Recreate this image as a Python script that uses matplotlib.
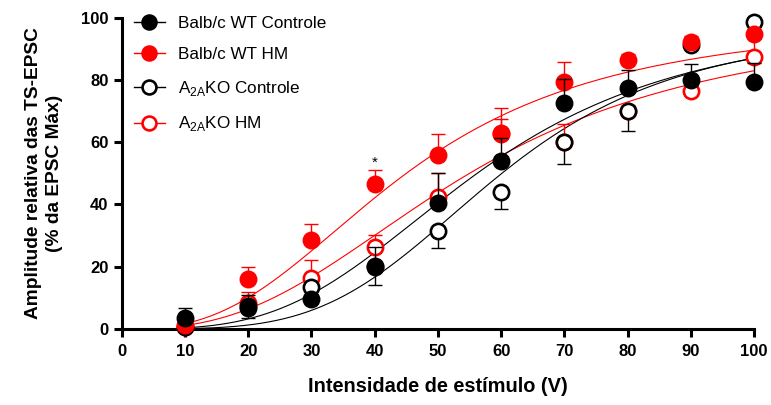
import numpy as np
import matplotlib.pyplot as plt
from matplotlib.lines import Line2D

plt.rcParams['font.family'] = ['Liberation Sans', 'DejaVu Sans']

# stimulus intensities (V)
volts = [10, 20, 30, 40, 50, 60, 70, 80, 90, 100]

# mean relative amplitude (% of max EPSC) and SEM per group
wt_ctrl = [3.5, 6.7, 9.5, 20.3, 40.5, 54.0, 72.7, 77.5, 80.0, 79.4]
wt_ctrl_sem = [3.3, 4.3, 1.5, 6.0, 9.5, 7.4, 7.5, 5.8, 5.0, 6.0]

wt_hm = [1.2, 16.0, 28.6, 46.5, 56.0, 63.0, 79.5, 86.5, 92.2, 94.8]
wt_hm_sem = [1.0, 4.0, 5.2, 4.5, 6.8, 8.0, 6.3, 2.0, 2.0, 1.0]

ko_ctrl = [0.5, 7.2, 13.3, 20.0, 31.5, 44.0, 60.0, 70.2, 91.4, 98.6]
ko_ctrl_sem = [1.0, 3.6, 2.5, 6.0, 5.5, 5.5, 7.0, 6.5, 1.0, 1.0]

ko_hm = [0.6, 8.3, 16.4, 26.4, 42.4, 62.5, 60.0, 70.0, 76.6, 87.4]
ko_hm_sem = [1.0, 3.7, 5.8, 3.8, 7.6, 5.0, 6.0, 2.0, 1.0, 7.0]

# Hill fit parameters per group: top, EC50 (V), slope
wt_ctrl_fit = [100, 56.2, 3.3]
wt_hm_fit = [100, 45.0, 2.7]
ko_ctrl_fit = [98, 59.5, 4.0]
ko_hm_fit = [100, 55.0, 2.65]

labels = ['Balb/c WT Controle', 'Balb/c WT HM',
          r'A$_{\mathregular{2A}}$KO Controle', r'A$_{\mathregular{2A}}$KO HM']

RED = '#ff0000'
BLACK = '#000000'


def hill(x, top, ec50, n):
    x = np.asarray(x, float)
    return top * x ** n / (ec50 ** n + x ** n)


fig = plt.figure(figsize=(7.71, 4.05), dpi=100)
ax = fig.add_axes([0.158, 0.188, 0.82, 0.768])

groups = [
    # values, sem, fit, colour, filled, error direction, zorder
    (ko_hm, ko_hm_sem, ko_hm_fit, RED, False, 1, 3),
    (ko_ctrl, ko_ctrl_sem, ko_ctrl_fit, BLACK, False, -1, 4),
    (wt_hm, wt_hm_sem, wt_hm_fit, RED, True, 1, 5),
    (wt_ctrl, wt_ctrl_sem, wt_ctrl_fit, BLACK, True, 1, 6),
]

xs = np.linspace(10, 100, 300)
for vals, sem, fit, col, filled, direction, z in groups:
    ax.plot(xs, hill(xs, *fit), color=col, lw=0.8, zorder=2)
    if direction > 0:
        yerr = [np.zeros(len(sem)), sem]
    else:
        yerr = [sem, np.zeros(len(sem))]
    ax.errorbar(volts, vals, yerr=yerr, fmt='none', ecolor=col, elinewidth=1.0,
                capsize=5, capthick=1.0, zorder=z, clip_on=False)
    ax.plot(volts, vals, 'o', ms=11, mec=col, mew=1.9,
            mfc=col if filled else 'white', zorder=z + 0.5, clip_on=False)

ax.text(40, 53.5, '*', ha='center', va='center', fontsize=11)

ax.set_xlim(0, 100)
ax.set_ylim(0, 100)
ax.set_xticks(range(0, 101, 10))
ax.set_yticks(range(0, 101, 20))
for s in ['top', 'right']:
    ax.spines[s].set_visible(False)
for s in ['left', 'bottom']:
    ax.spines[s].set_linewidth(2.2)
ax.tick_params(width=2.2, length=6, labelsize=12)
ax.tick_params(axis='x', pad=5)
for t in ax.get_xticklabels() + ax.get_yticklabels():
    t.set_fontweight('bold')

ax.set_xlabel('Intensidade de estímulo (V)', fontsize=14.4, fontweight='bold', labelpad=13)
ax.set_ylabel('Amplitude relativa das TS-EPSC\n(% da EPSC Máx)', fontsize=13.8,
              fontweight='bold', labelpad=13, linespacing=1.3)

handles = []
for (vals, sem, fit, col, filled, direction, z), lab in zip(
        [groups[3], groups[2], groups[1], groups[0]], labels):
    handles.append(Line2D([], [], color=col, lw=1.0, marker='o', ms=10, mec=col,
                          mew=1.9, mfc=col if filled else 'white', label=lab))
ax.legend(handles=handles, loc='upper left', bbox_to_anchor=(0.0, 1.045),
          frameon=False, fontsize=12.3, handlelength=1.8, handletextpad=0.8,
          labelspacing=0.97, borderaxespad=0.3)

fig.savefig('out.png', dpi=100)
